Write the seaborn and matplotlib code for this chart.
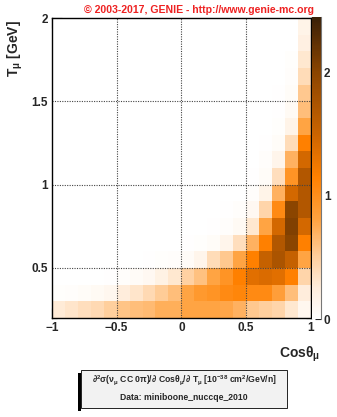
import numpy as np
import pandas as pd
import matplotlib
matplotlib.use("Agg")
import matplotlib.pyplot as plt
from matplotlib.colors import LinearSegmentedColormap
import seaborn as sns

# ---- data ----
cos_edges = [round(-1 + 0.1 * i, 1) for i in range(21)]
t_edges = [round(0.2 + 0.1 * i, 1) for i in range(19)]
x_ticks = [-1, -0.5, 0, 0.5, 1]
x_ticklabels = ["\u22121", "\u22120.5", "0", "0.5", "1"]
y_ticks = [0.5, 1, 1.5, 2]
y_ticklabels = ["0.5", "1", "1.5", "2"]
cbar_ticks = [0, 1, 2]
vmax = 2.45

# rows: T bins from 0.2-0.3 (first) up to 1.9-2.0 (last); columns: cos bins -1..1
row_0 = [0.27, 0.32, 0.38, 0.42, 0.50, 0.58, 0.62, 0.65, 0.72, 0.72, 0.80, 0.80, 0.80, 0.78, 0.70, 0.55, 0.50, 0.45, 0.30, 0.12]
row_1 = [0.02, 0.03, 0.05, 0.08, 0.12, 0.25, 0.32, 0.42, 0.52, 0.62, 0.80, 0.90, 0.95, 1.05, 1.10, 1.05, 1.05, 0.85, 0.62, 0.25]
row_2 = [0.0, 0.0, 0.0, 0.0, 0.01, 0.03, 0.06, 0.10, 0.20, 0.30, 0.48, 0.60, 0.80, 0.95, 1.15, 1.35, 1.40, 1.35, 1.15, 0.45]
row_3 = [0.0, 0.0, 0.0, 0.0, 0.0, 0.0, 0.0, 0.01, 0.02, 0.03, 0.06, 0.15, 0.40, 0.55, 0.80, 1.15, 1.55, 1.75, 1.55, 0.80]
row_4 = [0.0, 0.0, 0.0, 0.0, 0.0, 0.0, 0.0, 0.0, 0.0, 0.0, 0.01, 0.02, 0.05, 0.15, 0.38, 0.70, 1.15, 1.70, 2.00, 1.15]
row_5 = [0.0] * 12 + [0.01, 0.03, 0.08, 0.30, 0.80, 1.45, 2.05, 1.45]
row_6 = [0.0] * 13 + [0.01, 0.03, 0.10, 0.45, 1.05, 2.00, 1.70]
row_7 = [0.0] * 15 + [0.03, 0.17, 0.70, 1.45, 1.70]
row_8 = [0.0] * 15 + [0.01, 0.05, 0.38, 0.95, 1.70]
row_9 = [0.0] * 16 + [0.03, 0.15, 0.70, 1.45]
row_10 = [0.0] * 16 + [0.01, 0.05, 0.40, 1.15]
row_11 = [0.0] * 17 + [0.02, 0.17, 0.80]
row_12 = [0.0] * 17 + [0.01, 0.08, 0.62]
row_13 = [0.0] * 17 + [0.01, 0.05, 0.55]
row_14 = [0.0] * 18 + [0.03, 0.40]
row_15 = [0.0] * 18 + [0.02, 0.30]
row_16 = [0.0] * 18 + [0.0, 0.22]
row_17 = [0.0] * 18 + [0.0, 0.17]
values = [row_0, row_1, row_2, row_3, row_4, row_5, row_6, row_7, row_8, row_9,
          row_10, row_11, row_12, row_13, row_14, row_15, row_16, row_17]

cos_labels = [f"{a:.1f}" for a in cos_edges[:-1]]
t_labels = [f"{a:.1f}" for a in t_edges[:-1]]
df = pd.DataFrame(values, index=t_labels, columns=cos_labels)

# ---- style ----
sns.set_style("white")
plt.rcParams["font.family"] = ["Liberation Sans", "DejaVu Sans"]
plt.rcParams["font.weight"] = "bold"
plt.rcParams["mathtext.fontset"] = "custom"
plt.rcParams["mathtext.rm"] = "Liberation Sans:bold"
plt.rcParams["mathtext.it"] = "Liberation Sans:bold"
plt.rcParams["mathtext.bf"] = "Liberation Sans:bold"

anchors = [(0.0, "#ffffff"), (0.1, "#ffeedd"), (0.2, "#ffd0a0"), (0.33, "#ffa240"),
           (0.47, "#ff8000"), (0.61, "#cc6400"), (0.82, "#8a4400"), (1.0, "#3a2008")]
cmap = LinearSegmentedColormap.from_list("genie", anchors)

fig = plt.figure(figsize=(3.37, 4.17), dpi=100)
L, R, T, B = 52, 310.7, 18, 318
ax = fig.add_axes([L / 337, 1 - B / 417, (R - L) / 337, (B - T) / 417])
cax = fig.add_axes([311.5 / 337, 1 - 319 / 417, 9.5 / 337, (319 - 17) / 417])

sns.heatmap(df, ax=ax, cmap=cmap, vmin=0, vmax=vmax, cbar=True, cbar_ax=cax,
            xticklabels=False, yticklabels=False, linewidths=0, rasterized=True)

nx, ny = len(cos_edges) - 1, len(t_edges) - 1
ax.set_xlim(0, nx)
ax.set_ylim(0, ny)

def xpos(v):
    return (v - cos_edges[0]) / 0.1

def ypos(v):
    return (v - t_edges[0]) / 0.1

for spine in ax.spines.values():
    spine.set_visible(True)
    spine.set_linewidth(1.0)
    spine.set_color("black")

# grid
for v in x_ticks[1:-1]:
    ax.axvline(xpos(v), color="#444444", lw=0.8, ls=(0, (1, 1.2)))
for v in y_ticks[:-1]:
    ax.axhline(ypos(v), color="#444444", lw=0.8, ls=(0, (1, 1.2)))

ax.set_xticks([xpos(v) for v in x_ticks])
ax.set_xticklabels(x_ticklabels, fontsize=8.5, fontweight="bold")
ax.set_xticks([xpos(round(-1 + 0.1 * i, 1)) for i in range(21)], minor=True)
ax.set_yticks([ypos(v) for v in y_ticks])
ax.set_yticklabels(y_ticklabels, fontsize=8.5, fontweight="bold")
ax.set_yticks([ypos(round(0.2 + 0.1 * i, 1)) for i in range(19)], minor=True)
ax.tick_params(which="both", direction="in", top=True, right=True, bottom=True, left=True, color="black")
ax.tick_params(which="major", length=7, width=0.8, pad=3)
ax.tick_params(which="minor", length=3.5, width=0.8)
ax.set_xlabel("")
ax.set_ylabel("")

# colorbar
cax.set_yticks(cbar_ticks)
cax.set_yticklabels([str(t) for t in cbar_ticks], fontsize=8.5, fontweight="bold")
cax.tick_params(axis="y", direction="in", length=4, width=0.8, right=True, left=False, pad=2)
for s in cax.spines.values():
    s.set_visible(False)
cax.spines["right"].set_visible(True)
cax.spines["right"].set_color("#777777")
cax.spines["right"].set_linewidth(0.8)

# labels
fig.text(320 / 337, 1 - 354 / 417, r"Cos$\theta_{\mu}$", ha="right", va="center",
         fontsize=10, fontweight="bold")
fig.text(15 / 337, 1 - 20 / 417, r"T$_{\mu}$ [GeV]", ha="center", va="top",
         rotation=90, fontsize=10, fontweight="bold")
fig.text(199.5 / 337, 1 - 10 / 417, "\u00a9 2003-2017, GENIE - http://www.genie-mc.org",
         ha="center", va="center", fontsize=7.6, fontweight="bold", color="#ee2222")

# info box
box_l, box_r, box_t, box_b = 81, 287, 370, 408
fig.patches.append(plt.Rectangle((box_l / 337, 1 - box_b / 417), (box_r - box_l) / 337,
                                 (box_b - box_t) / 417, transform=fig.transFigure,
                                 facecolor="#f2f2f2", edgecolor="black", lw=0.6))
fig.patches.append(plt.Rectangle((box_l / 337 - 3 / 337, 1 - (box_b + 3) / 417), 3 / 337,
                                 (box_b - box_t) / 417, transform=fig.transFigure,
                                 facecolor="black", edgecolor="none"))
fig.text((box_l + box_r) / 2 / 337, 1 - 380 / 417,
         r"$\partial^{2}\sigma(\nu_{\mu}$ CC 0$\pi$)/$\partial$ Cos$\theta_{\mu}$/$\partial$ T$_{\mu}$ [10$^{-38}$ cm$^{2}$/GeV/n]",
         ha="center", va="center", fontsize=6.2, fontweight="bold")
fig.text((box_l + box_r) / 2 / 337, 1 - 397 / 417, "Data: miniboone_nuccqe_2010",
         ha="center", va="center", fontsize=6.2, fontweight="bold")

fig.savefig("out.png", dpi=100)
